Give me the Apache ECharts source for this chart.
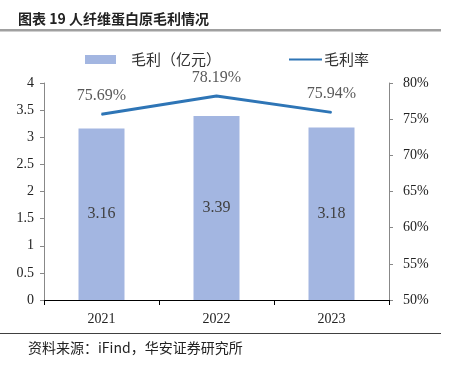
<!DOCTYPE html>
<html><head><meta charset="utf-8">
<script src="https://cdn.jsdelivr.net/npm/echarts@6/dist/echarts.min.js"></script>
<style>html,body{margin:0;padding:0;background:#fff}#c{width:449px;height:365px}</style>
</head><body><div id="c"></div>
<script>
var categories = ['2021', '2022', '2023'];
var grossProfit = [3.16, 3.39, 3.18];
var grossMargin = [75.69, 78.19, 75.94];
var leftTicks = [0, 4, 0.5];
var rightTicks = [50, 80, 5];

var serif = '"Liberation Serif","Times New Roman",serif';
var cjk = '"Noto Sans CJK SC",sans-serif';
var chart = echarts.init(document.getElementById('c'));
chart.setOption({
  animation: false,
  title: {
    text: '图表 19 人纤维蛋白原毛利情况', left: 13, top: 7,
    textStyle: {fontFamily: cjk, fontSize: 14, fontWeight: 'bold', color: '#222'}
  },
  graphic: [
    {type: 'rect', shape: {x: 0, y: 29, width: 441, height: 2.5}, style: {fill: '#a0a0a0'}},
    {type: 'rect', shape: {x: 0, y: 333, width: 441, height: 1}, style: {fill: '#404040'}},
    {type: 'text', left: 28, top: 341, style: {text: '资料来源：iFind，华安证券研究所', font: '14px "Noto Sans CJK SC",sans-serif', fill: '#222'}}
  ],
  legend: [
    {
      top: 47, left: 80, itemWidth: 31, itemHeight: 9,
      textStyle: {fontFamily: cjk, fontSize: 15, color: '#333', padding: [0, 0, 0, 10]},
      data: [{name: '毛利（亿元）', icon: 'rect'}]
    },
    {
      top: 47, left: 284, itemWidth: 33, itemHeight: 9,
      textStyle: {fontFamily: cjk, fontSize: 15, color: '#333', padding: [0, 0, 0, -3]},
      data: [{name: '毛利率', icon: 'path://M0,3.6 L30,3.6 L30,5.4 L0,5.4 Z', itemStyle: {color: '#2E75B6'}}]
    }
  ],
  grid: {left: 44, right: 60, top: 83, bottom: 65},
  xAxis: {
    type: 'category', data: categories,
    axisLine: {lineStyle: {color: '#000', width: 1}},
    axisTick: {show: true, length: 5, lineStyle: {color: '#000'}},
    axisLabel: {fontFamily: serif, fontSize: 14, color: '#222', margin: 12}
  },
  yAxis: [
    {
      type: 'value', min: leftTicks[0], max: leftTicks[1], interval: leftTicks[2],
      axisLine: {show: true, lineStyle: {color: '#888'}},
      axisTick: {show: true, length: 4, lineStyle: {color: '#888'}},
      splitLine: {show: false},
      axisLabel: {fontFamily: serif, fontSize: 14, color: '#222', margin: 10}
    },
    {
      type: 'value', min: rightTicks[0], max: rightTicks[1], interval: rightTicks[2],
      position: 'right',
      axisLine: {show: true, lineStyle: {color: '#888'}},
      axisTick: {show: true, length: 4, lineStyle: {color: '#888'}},
      splitLine: {show: false},
      axisLabel: {fontFamily: serif, fontSize: 14, color: '#222', margin: 14, formatter: '{value}%'}
    }
  ],
  series: [
    {
      name: '毛利（亿元）', type: 'bar', data: grossProfit, barWidth: '40%',
      itemStyle: {color: '#A3B6E1'},
      label: {show: true, position: 'inside', fontFamily: serif, fontSize: 16, color: '#404040',
        formatter: function(p){return p.value.toFixed(2);}}
    },
    {
      name: '毛利率', type: 'line', yAxisIndex: 1, data: grossMargin,
      symbol: 'circle', symbolSize: 1, showSymbol: true,
      lineStyle: {color: '#2E75B6', width: 3}, itemStyle: {color: '#2E75B6'},
      label: {show: true, position: 'top', distance: 10, fontFamily: serif, fontSize: 16, color: '#595959',
        formatter: function(p){return p.value.toFixed(2) + '%';}}
    }
  ]
});
</script></body></html>
